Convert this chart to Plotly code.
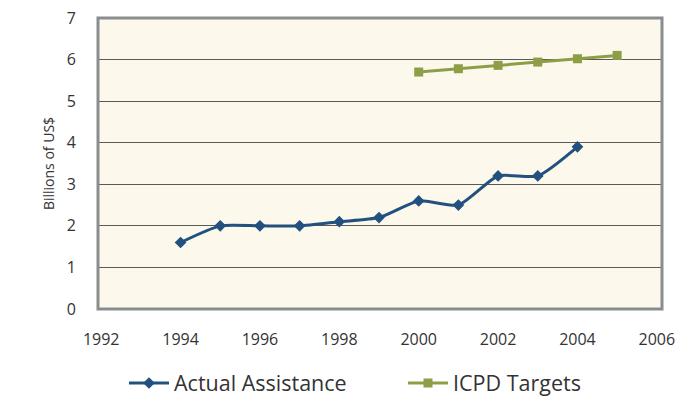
import plotly.graph_objects as go

# Annual population assistance vs. ICPD targets (billions of US$)
actual_years = [1994, 1995, 1996, 1997, 1998, 1999, 2000, 2001, 2002, 2003, 2004]
actual_values = [1.6, 2.0, 2.0, 2.0, 2.1, 2.2, 2.6, 2.5, 3.2, 3.2, 3.9]

target_years = [2000, 2001, 2002, 2003, 2004, 2005]
target_values = [5.7, 5.78, 5.86, 5.94, 6.02, 6.1]

x_ticks = [1992, 1994, 1996, 1998, 2000, 2002, 2004, 2006]
y_ticks = [0, 1, 2, 3, 4, 5, 6, 7]

BLUE = "#22507f"
GREEN = "#8e9e47"
TEXT = "#333333"
FONT = "Open Sans, Lato, sans-serif"

fig = go.Figure()
fig.add_trace(go.Scatter(
    x=actual_years, y=actual_values, name="Actual Assistance",
    mode="lines+markers", legend="legend",
    line=dict(color=BLUE, width=3, shape="spline", smoothing=0.6),
    marker=dict(symbol="diamond", size=9, color=BLUE),
))
fig.add_trace(go.Scatter(
    x=target_years, y=target_values, name="ICPD Targets",
    mode="lines+markers", legend="legend2",
    line=dict(color=GREEN, width=3),
    marker=dict(symbol="square", size=9, color=GREEN),
))

legend_common = dict(
    orientation="h",
    xref="container", xanchor="left",
    yref="container", y=1 - 383 / 401, yanchor="middle",
    font=dict(size=21.5, color=TEXT), itemwidth=40,
    bgcolor="rgba(0,0,0,0)",
)

fig.update_layout(
    width=678, height=401,
    margin=dict(l=98, r=16, t=18, b=92, autoexpand=False),
    paper_bgcolor="white",
    plot_bgcolor="#fcf8ec",
    font=dict(family=FONT, color=TEXT),
    showlegend=True,
    legend=dict(legend_common, x=124 / 678),
    legend2=dict(legend_common, x=403 / 678),
    xaxis=dict(
        range=[1991.92, 2006.13], tickvals=x_ticks,
        showgrid=False, zeroline=False, showline=False,
        ticks="outside", ticklen=16, tickcolor="rgba(0,0,0,0)",
        tickfont=dict(size=16, color=TEXT),
    ),
    yaxis=dict(
        range=[0, 7], tickvals=y_ticks,
        showgrid=True, gridcolor="#5c5a55", gridwidth=1,
        zeroline=False, showline=False,
        ticks="outside", ticklen=18, tickcolor="rgba(0,0,0,0)",
        tickfont=dict(size=16, color=TEXT),
        title=dict(text="Billions of US$", font=dict(size=14, color=TEXT), standoff=8),
    ),
)

# Heavy grey frame around the plotting area
fig.add_shape(
    type="rect", xref="paper", yref="paper", x0=0, x1=1, y0=0, y1=1,
    line=dict(color="#8a8d90", width=3), layer="above",
)

fig.write_html("out.html")
